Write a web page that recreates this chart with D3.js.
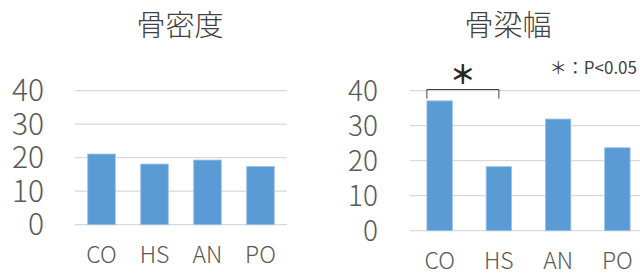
<!DOCTYPE html>
<html lang="ja">
<head>
<meta charset="utf-8">
<script src="https://cdn.jsdelivr.net/npm/d3@7"></script>
<style>
  body { margin: 0; background: #fff; }
  svg text { font-family: "Noto Sans CJK JP", "Noto Sans", sans-serif; font-weight: 300; }
</style>
</head>
<body>
<div id="chart"></div>
<script>
// data
var categories = ["CO", "HS", "AN", "PO"];
var boneDensity = [21.1, 18.1, 19.3, 17.4];
var trabWidth = [37.1, 18.3, 31.9, 23.7];
var yTicks = [0, 10, 20, 30, 40];
var titles = ["骨密度", "骨梁幅"];
var sigPair = ["CO", "HS"];
var sigNote = "＊：P<0.05";

var w = 640, h = 273;
var barColor = "#5b9bd5";
var gridColor = "#d9d9d9";
var textColor = "#595959";

var svg = d3.select("#chart").append("svg")
  .attr("width", w)
  .attr("height", h);

// layout for each panel
var panels = [
  { title: titles[0], values: boneDensity, x0: 75, x1: 287, yTop: 90.7, yBot: 224.7,
    tickX: 44, tickSize: 30, labelY: 263, labelSize: 23, titleX: 180, titleY: 36, pad: 0.48 },
  { title: titles[1], values: trabWidth, x0: 410, x1: 647, yTop: 90.7, yBot: 230.7,
    tickX: 378, tickSize: 28, labelY: 269, labelSize: 23, titleX: 508, titleY: 36, pad: 0.57 }
];

panels.forEach(function(p, pi) {
  var x = d3.scaleBand().domain(categories).range([p.x0, p.x1]).paddingInner(p.pad).paddingOuter(p.pad / 2);
  var y = d3.scaleLinear().domain([0, 40]).range([p.yBot, p.yTop]);
  var g = svg.append("g");

  // title
  g.append("text")
    .attr("x", p.titleX).attr("y", p.titleY)
    .attr("text-anchor", "middle")
    .style("font-size", "29px")
    .style("fill", "#404040")
    .text(p.title);

  // gridlines
  g.selectAll("line.grid").data(yTicks).enter().append("line")
    .attr("class", "grid")
    .attr("x1", p.x0).attr("x2", p.x1)
    .attr("y1", d => y(d)).attr("y2", d => y(d))
    .style("stroke", gridColor).style("stroke-width", 1.3);

  // y tick labels
  g.selectAll("text.ytick").data(yTicks).enter().append("text")
    .attr("class", "ytick")
    .attr("x", p.tickX).attr("y", d => y(d))
    .attr("dy", "0.35em")
    .attr("text-anchor", "end")
    .style("font-size", p.tickSize + "px")
    .style("fill", textColor)
    .text(d => d);

  // bars
  g.selectAll("rect").data(p.values).enter().append("rect")
    .attr("x", (d, i) => x(categories[i]))
    .attr("width", x.bandwidth())
    .attr("y", d => y(d))
    .attr("height", d => y(0) - y(d))
    .style("fill", barColor)
    .style("stroke", "#9dc3e6").style("stroke-width", 0.8);

  // x labels
  g.selectAll("text.xlab").data(categories).enter().append("text")
    .attr("class", "xlab")
    .attr("x", d => x(d) + x.bandwidth() / 2)
    .attr("y", p.labelY)
    .attr("text-anchor", "middle")
    .style("font-size", p.labelSize + "px")
    .style("fill", textColor)
    .text(d => d);

  // significance bracket on the second chart
  if (pi == 1) {
    var bx1 = x(sigPair[0]), bx2 = x(sigPair[1]) + x.bandwidth() * 0.5;
    var by = 89.5;
    g.append("path")
      .attr("d", "M" + bx1 + "," + (by + 9) + "V" + by + "H" + bx2 + "V" + (by + 9))
      .style("fill", "none").style("stroke", "#404040").style("stroke-width", 1);
    g.append("text")
      .attr("x", (bx1 + bx2) / 2).attr("y", 84)
      .attr("text-anchor", "middle")
      .style("font-size", "26px")
      .style("font-weight", 700)
      .style("fill", "#262626")
      .text("＊");
    g.append("text")
      .attr("x", 637).attr("y", 74)
      .attr("text-anchor", "end")
      .style("font-size", "17px")
      .style("font-weight", 400)
      .style("fill", "#404040")
      .text(sigNote);
  }
});
</script>
</body>
</html>
